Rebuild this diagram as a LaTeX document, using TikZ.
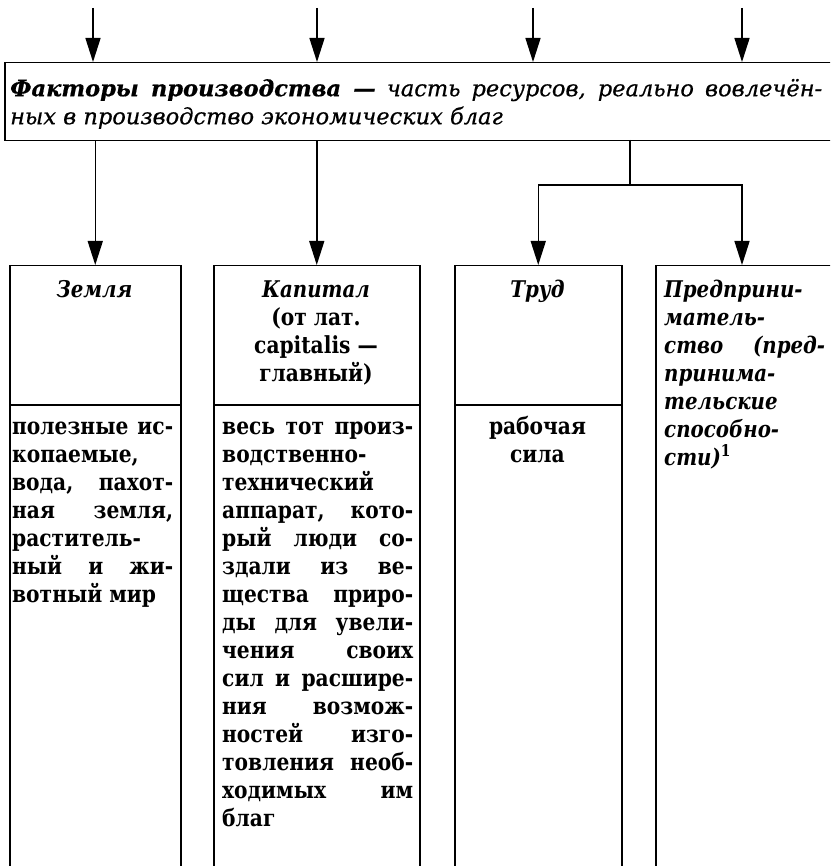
\documentclass[tikz,border=0pt]{standalone}
\usepackage{fontspec}
\setmainfont{DejaVu Serif}
\newfontfamily\topfam[FakeBold=0.6]{DejaVu Serif}
\newfontfamily\bodyfam[FakeStretch=0.86]{DejaVu Serif}
\usetikzlibrary{arrows.meta}
\newcommand{\J}[2]{\makebox[#1][s]{#2}}
\newcommand{\bodyf}{\bodyfam\fontsize{23.5}{28}\selectfont\bfseries}
\newcommand{\itf}{\bodyfam\fontsize{23}{28}\selectfont\bfseries\itshape}
\newcommand{\topf}{\topfam\fontsize{22.5}{28}\selectfont\itshape}
\tikzset{
  arr/.style={-{Triangle[length=24pt,width=15pt]}, line width=1.5pt},
  box/.style={draw, line width=1.5pt, inner sep=0pt, anchor=north west},
  txt/.style={inner sep=0pt, font=\bodyf},
  ittxt/.style={inner sep=0pt, font=\itf},
}
\begin{document}
\begin{tikzpicture}[x=1pt,y=-1pt]
\useasboundingbox (0,0) rectangle (830,866);
\clip (0,0) rectangle (830,866);
\fill[white] (0,0) rectangle (830,866);
% top box
\node[box, minimum width=846pt, minimum height=78pt] (fac) at (4,62) {};
\coordinate (t1) at (93,8);
\coordinate (t2) at (317,8);
\coordinate (t3) at (533,8);
\coordinate (t4) at (742,8);
\foreach \t in {t1,t2,t3,t4} \draw[arr] (\t) -- (\t |- fac.north);
\node[inner sep=0pt, anchor=north west, align=left, font=\topf] (factxt) at (10,76)
  {\rule{0pt}{20pt}\J{812pt}{{\bfseries Факторы производства —} часть ресурсов, реально вовлечён-}\\
   ных в производство экономических благ};
% columns
\node[box, minimum width=171pt, minimum height=640pt] (c1) at (9,265) {};
\node[box, minimum width=206pt, minimum height=640pt] (c2) at (213,265) {};
\node[box, minimum width=167pt, minimum height=640pt] (c3) at (454,265) {};
\node[box, minimum width=190pt, minimum height=640pt] (c4) at (655,265) {};
\draw[line width=1.5pt] (c1.north west |- 0,405) -- (c1.north east |- 0,405);
\draw[line width=1.5pt] (c2.north west |- 0,405) -- (c2.north east |- 0,405);
\draw[line width=1.5pt] (c3.north west |- 0,405) -- (c3.north east |- 0,405);
% connectors
\draw[arr] (c1.north |- fac.south) -- (c1.north);
\draw[arr] (c2.north |- fac.south) -- (c2.north);
\coordinate (br0) at (630,140);
\coordinate (br) at (630,185);
\draw[line width=1.5pt] (br0) -- (br);
\draw[arr] (br) -| (c3.north);
\draw[arr] (br) -| ([xshift=87pt]c4.north west);
% header texts
\node[ittxt, anchor=north, align=center] (h1) at (94.5,277) {\rule{0pt}{20pt}Земля};
\node[txt, anchor=north, align=center] (h2) at (316,277)
  {\rule{0pt}{20pt}{\itf Капитал}\\(от лат.\\capitalis —\\главный)};
\node[ittxt, anchor=north, align=center] (h3) at (537.5,277) {\rule{0pt}{20pt}Труд};
\node[ittxt, anchor=north west, align=left] (h4) at (664,277)
  {\rule{0pt}{20pt}\J{160pt}{Предприни-}\\матель-\\\J{161pt}{ство (пред-}\\принима-\\тельские\\способно-\\сти)\textsuperscript{\upshape 1}};
% body texts
\node[txt, anchor=north west, align=left] (b1) at (12,414)
  {\rule{0pt}{20pt}\J{161pt}{полезные ис-}\\копаемые,\\\J{161pt}{вода, пахот-}\\\J{161pt}{ная земля,}\\раститель-\\\J{161pt}{ный и жи-}\\вотный мир};
\node[txt, anchor=north west, align=left] (b2) at (222,414)
  {\rule{0pt}{20pt}\J{191pt}{весь тот произ-}\\водственно-\\технический\\\J{191pt}{аппарат, кото-}\\\J{191pt}{рый люди со-}\\\J{191pt}{здали из ве-}\\\J{191pt}{щества приро-}\\\J{191pt}{ды для увели-}\\\J{191pt}{чения своих}\\\J{191pt}{сил и расшире-}\\\J{191pt}{ния возмож-}\\\J{191pt}{ностей изго-}\\\J{191pt}{товления необ-}\\\J{191pt}{ходимых им}\\благ};
\node[txt, anchor=north, align=center] (b3) at (537.5,414) {\rule{0pt}{20pt}рабочая\\сила};
\end{tikzpicture}
\end{document}
